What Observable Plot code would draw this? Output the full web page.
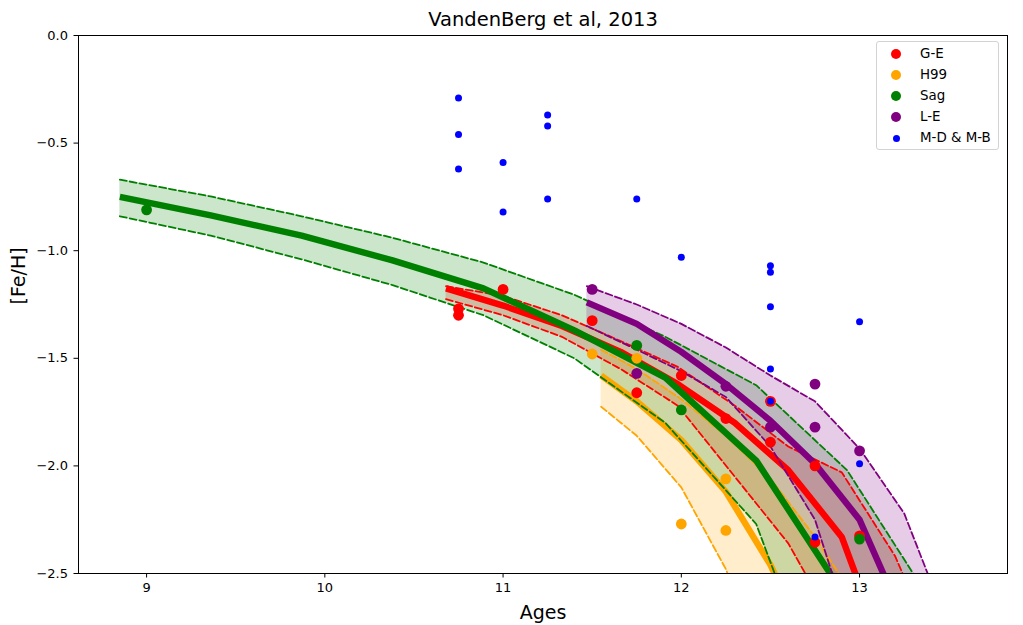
<!DOCTYPE html>
<html><head><meta charset="utf-8">
<script src="https://cdn.jsdelivr.net/npm/d3@7"></script>
<script src="https://cdn.jsdelivr.net/npm/@observablehq/plot@0.6"></script>
<style>
body{margin:0;background:#fff;font-family:"DejaVu Sans",sans-serif;}
#wrap{position:relative;width:1023px;height:625px;}
#legend{position:absolute;left:876px;top:41px;width:123px;height:109px;border:1px solid #d3d3d3;border-radius:3px;background:rgba(255,255,255,0.8);box-sizing:border-box;font-size:13.4px;color:#000;}
.row{position:absolute;left:0;width:100%;height:20px;}
.dot{position:absolute;border-radius:50%;}
.lab{position:absolute;left:43px;top:1px;line-height:18px;white-space:nowrap;}
</style>
</head><body>
<div id="wrap"><div id="chart"></div><div id="legend"></div></div>
<script>
// Model curves: age grid, mean, upper, lower [Fe/H]
const geAge   = [10.68, 11.0, 11.33, 11.66, 11.98, 12.3, 12.6, 12.9, 13.2, 13.5];
const geMean  = [-1.175, -1.255, -1.35, -1.47, -1.62, -1.80, -2.02, -2.33, -3.0, -3.7];
const geUpper = [-1.165, -1.21, -1.30, -1.42, -1.54, -1.72, -1.91, -2.03, -2.42, -3.0];
const geLower = [-1.225, -1.30, -1.40, -1.55, -1.72, -2.05, -2.36, -2.8, -3.3, -3.8];

const h99Age   = [11.55, 11.75, 12.0, 12.25, 12.5, 12.75, 13.0, 13.25];
const h99Mean  = [-1.58, -1.70, -1.88, -2.12, -2.46, -2.9, -3.4, -3.9];
const h99Upper = [-1.46, -1.55, -1.69, -1.86, -2.06, -2.33, -2.65, -3.2];
const h99Lower = [-1.725, -1.86, -2.10, -2.48, -3.0, -3.5, -4.0, -4.5];

const sagAge   = [8.85, 9.36, 9.87, 10.38, 10.89, 11.40, 11.91, 12.42, 12.93, 13.44];
const sagMean  = [-0.75, -0.836, -0.93, -1.045, -1.175, -1.37, -1.59, -1.975, -2.62, -3.3];
const sagUpper = [-0.67, -0.748, -0.84, -0.94, -1.055, -1.205, -1.40, -1.625, -2.02, -2.68];
const sagLower = [-0.84, -0.93, -1.04, -1.16, -1.30, -1.50, -1.80, -2.27, -3.4, -4.5];

const leAge   = [11.47, 11.75, 12.0, 12.25, 12.5, 12.75, 13.0, 13.25, 13.5];
const leMean  = [-1.24, -1.34, -1.47, -1.62, -1.79, -1.99, -2.25, -2.72, -3.2];
const leUpper = [-1.165, -1.25, -1.34, -1.45, -1.58, -1.70, -1.92, -2.22, -2.75];
const leLower = [-1.35, -1.46, -1.56, -1.68, -1.91, -2.25, -2.9, -3.5, -4.0];

// Observed clusters
const geX = [10.75, 10.75, 11.0, 11.5, 11.75, 12.0, 12.25, 12.5, 12.5, 12.75, 12.75, 13.0];
const geY = [-1.27, -1.30, -1.18, -1.325, -1.66, -1.58, -1.78, -1.70, -1.89, -2.0, -2.355, -2.325];
const h99X = [11.5, 11.75, 12.0, 12.25, 12.25];
const h99Y = [-1.48, -1.50, -2.27, -2.06, -2.30];
const sagX = [9.0, 11.75, 12.0, 13.0];
const sagY = [-0.81, -1.44, -1.74, -2.34];
const leX = [11.5, 11.75, 12.25, 12.5, 12.75, 12.75, 13.0];
const leY = [-1.18, -1.57, -1.63, -1.82, -1.62, -1.82, -1.93];
const mdX = [10.75, 10.75, 10.75, 11.0, 11.0, 11.25, 11.25, 11.25, 11.75, 12.0, 12.5, 12.5, 12.5, 12.5, 12.5, 12.75, 13.0, 13.0];
const mdY = [-0.29, -0.46, -0.62, -0.59, -0.82, -0.37, -0.42, -0.76, -0.76, -1.03, -1.07, -1.10, -1.26, -1.55, -1.70, -2.33, -1.33, -1.99];

const xTicks = [9, 10, 11, 12, 13];
const yTicks = [0, -0.5, -1.0, -1.5, -2.0, -2.5];

const models = [
  {name: "G-E", color: "#ff0000", age: geAge, mean: geMean, up: geUpper, lo: geLower},
  {name: "H99", color: "#ffa500", age: h99Age, mean: h99Mean, up: h99Upper, lo: h99Lower},
  {name: "Sag", color: "#008000", age: sagAge, mean: sagMean, up: sagUpper, lo: sagLower},
  {name: "L-E", color: "#800080", age: leAge, mean: leMean, up: leUpper, lo: leLower}
];
const pts = [
  {name: "G-E", color: "#ff0000", x: geX, y: geY, r: 5.4},
  {name: "H99", color: "#ffa500", x: h99X, y: h99Y, r: 5.4},
  {name: "Sag", color: "#008000", x: sagX, y: sagY, r: 5.4},
  {name: "L-E", color: "#800080", x: leX, y: leY, r: 5.4},
  {name: "M-D & M-B", color: "#0000ff", x: mdX, y: mdY, r: 3.5}
];

const tab = m => m.age.map((a, i) => ({age: a, mean: m.mean[i], up: m.up[i], lo: m.lo[i]}));
const fmtY = d => d3.format(".1f")(d).replace("-", "\u2212");

const marks = [];
for (const m of models) {
  marks.push(Plot.areaY(tab(m), {x: "age", y1: "lo", y2: "up", fill: m.color, fillOpacity: 0.2, clip: true}));
}
for (const m of models) {
  const t = tab(m);
  marks.push(Plot.line(t, {x: "age", y: "mean", stroke: m.color, strokeWidth: 6.4, strokeLinejoin: "round", strokeLinecap: "butt", clip: true}));
  marks.push(Plot.line(t, {x: "age", y: "up", stroke: m.color, strokeWidth: 1.8, strokeDasharray: "7,3", clip: true}));
  marks.push(Plot.line(t, {x: "age", y: "lo", stroke: m.color, strokeWidth: 1.8, strokeDasharray: "7,3", clip: true}));
}
for (const p of pts) {
  marks.push(Plot.dot(p.x.map((v, i) => ({x: v, y: p.y[i]})), {x: "x", y: "y", r: p.r, fill: p.color, stroke: "none"}));
}
marks.push(Plot.frame({stroke: "black", strokeWidth: 1}));
marks.push(Plot.axisX({ticks: xTicks, tickSize: 4.5, tickPadding: 5, label: null, fontSize: 13, tickFormat: d => String(d)}));
marks.push(Plot.axisY({ticks: yTicks, tickSize: 4.5, tickPadding: 6, label: null, fontSize: 13, tickFormat: fmtY}));
marks.push(Plot.text(["VandenBerg et al, 2013"], {frameAnchor: "top", dy: -23, fontSize: 19.5}));
marks.push(Plot.text(["Ages"], {frameAnchor: "bottom", dy: 45, fontSize: 19}));
marks.push(Plot.text(["[Fe/H]"], {frameAnchor: "left", dx: -60, rotate: -90, fontSize: 19}));

const chart = Plot.plot({
  width: 1023,
  height: 625,
  marginLeft: 78,
  marginRight: 16,
  marginTop: 35,
  marginBottom: 52,
  style: {fontFamily: "DejaVu Sans", fontSize: "13px", background: "white", color: "black", overflow: "visible"},
  x: {domain: [8.618, 13.83]},
  y: {domain: [-2.5, 0]},
  marks
});
document.getElementById("chart").appendChild(chart);

// Legend
const leg = document.getElementById("legend");
const rowTops = [2, 23, 44, 65, 86];
pts.forEach((p, i) => {
  const row = document.createElement("div");
  row.className = "row";
  row.style.top = rowTops[i] + "px";
  const d = document.createElement("span");
  d.className = "dot";
  const rr = p.r;
  d.style.width = (2 * rr) + "px";
  d.style.height = (2 * rr) + "px";
  d.style.left = (19 - rr) + "px";
  d.style.top = (10 - rr) + "px";
  d.style.background = p.color;
  const l = document.createElement("span");
  l.className = "lab";
  l.textContent = p.name;
  row.appendChild(d);
  row.appendChild(l);
  leg.appendChild(row);
});
</script>
</body></html>
